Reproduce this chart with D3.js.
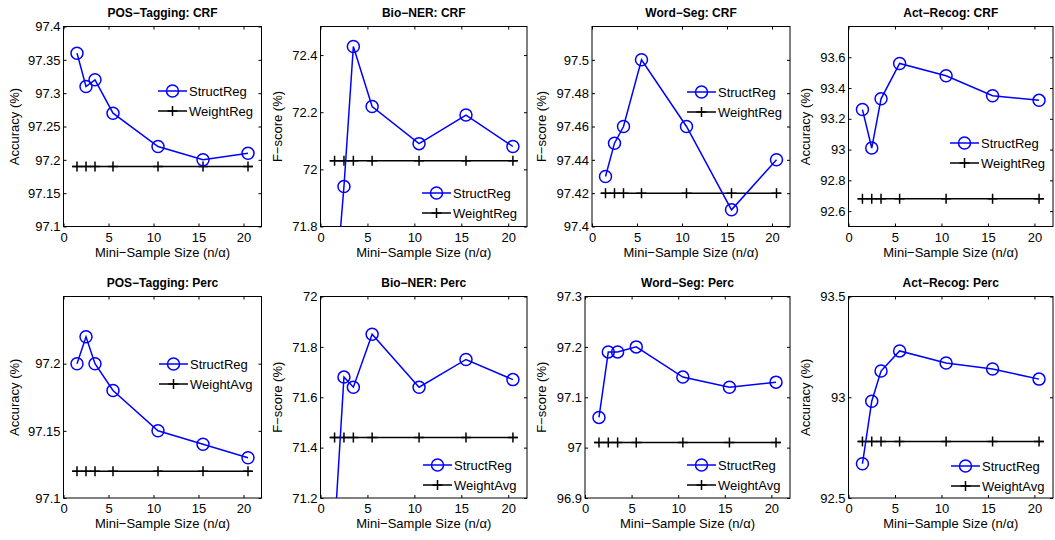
<!DOCTYPE html>
<html>
<head>
<meta charset="utf-8">
<script src="https://cdn.jsdelivr.net/npm/d3@7"></script>
<style>
body { margin: 0; background: #fff; }
text { font-family: "Liberation Sans", Arial, sans-serif; fill: #000; }
</style>
</head>
<body>
<script>
// mini-sample sizes (x) shared by every panel
const sizes = [1.5, 2.5, 3.5, 5.5, 10.5, 15.5, 20.5];
const baseSpan = [1, 21];
const xTicks = [0, 5, 10, 15, 20];

const titles = ['POS\u2212Tagging: CRF', 'Bio\u2212NER: CRF', 'Word\u2212Seg: CRF', 'Act\u2212Recog: CRF',
  'POS\u2212Tagging: Perc', 'Bio\u2212NER: Perc', 'Word\u2212Seg: Perc', 'Act\u2212Recog: Perc'];
const yNames = ['Accuracy (%)', 'F\u2212score (%)', 'F\u2212score (%)', 'Accuracy (%)',
  'Accuracy (%)', 'F\u2212score (%)', 'F\u2212score (%)', 'Accuracy (%)'];
const baseNames = ['WeightReg', 'WeightReg', 'WeightReg', 'WeightReg',
  'WeightAvg', 'WeightAvg', 'WeightAvg', 'WeightAvg'];

// StructReg values, one array per panel
const posCrf = [97.36, 97.31, 97.32, 97.27, 97.22, 97.20, 97.21];
const bioCrf = [71.54, 71.94, 72.43, 72.22, 72.09, 72.19, 72.08];
const segCrf = [97.43, 97.45, 97.46, 97.50, 97.46, 97.41, 97.44];
const actCrf = [93.26, 93.01, 93.33, 93.56, 93.48, 93.35, 93.32];
const posPerc = [97.20, 97.22, 97.20, 97.18, 97.15, 97.14, 97.13];
const bioPerc = [71.07, 71.68, 71.64, 71.85, 71.64, 71.75, 71.67];
const segPerc = [97.06, 97.19, 97.19, 97.20, 97.14, 97.12, 97.13];
const actPerc = [92.67, 92.98, 93.13, 93.23, 93.17, 93.14, 93.09];
const structVals = [posCrf, bioCrf, segCrf, actCrf, posPerc, bioPerc, segPerc, actPerc];

// baseline (WeightReg / WeightAvg), flat
const baseVals = [97.19, 72.03, 97.42, 92.68, 97.12, 71.44, 97.01, 92.78];

const yDomains = [[97.1, 97.4], [71.8, 72.5], [97.4, 97.52], [92.5, 93.8],
  [97.1, 97.25], [71.2, 72.0], [96.9, 97.3], [92.5, 93.5]];
const yTicks = [
  [97.1, 97.15, 97.2, 97.25, 97.3, 97.35, 97.4],
  [71.8, 72, 72.2, 72.4],
  [97.4, 97.42, 97.44, 97.46, 97.48, 97.5],
  [92.6, 92.8, 93, 93.2, 93.4, 93.6],
  [97.1, 97.15, 97.2],
  [71.2, 71.4, 71.6, 71.8, 72],
  [96.9, 97, 97.1, 97.2, 97.3],
  [92.5, 93, 93.5]
];

// layout: box [left, right, top, bottom], y label x, legend [lineStartX, firstRowY]
const boxes = [
  [63.5, 261.5, 26.5, 226.5], [320.5, 527, 26.5, 226.5], [592, 790, 26.5, 226.5], [848.5, 1053, 26.5, 226.5],
  [63.5, 261.5, 296.5, 498], [320.5, 527, 296.5, 498], [585, 790, 296.5, 498], [848.5, 1053, 296.5, 498]
];
const yLabX = [14, 277, 541, 805, 14, 277, 541, 805];
const legendPos = [[158, 91], [422, 193], [687, 92], [950, 143], [159, 364], [423, 465], [687, 465], [951, 466]];

const font = '"Liberation Sans", Arial, sans-serif';
const svg = d3.select('body').append('svg').attr('width', 1055).attr('height', 540);

function plusMark(sel, cx, cy) {
  sel.append('path').attr('d', `M${cx - 5},${cy}H${cx + 5}M${cx},${cy - 5}V${cy + 5}`)
    .attr('stroke', '#000').attr('stroke-width', 1.5).attr('fill', 'none');
}

boxes.forEach((b, i) => {
  const [x0, x1, y0, y1] = b;
  const x = d3.scaleLinear().domain([0, 22]).range([x0, x1]);
  const y = d3.scaleLinear().domain(yDomains[i]).range([y1, y0]);
  const g = svg.append('g');

  g.append('clipPath').attr('id', 'clip' + i).append('rect')
    .attr('x', x0).attr('y', y0).attr('width', x1 - x0).attr('height', y1 - y0);

  const fmt = d => String(+d.toFixed(2));
  const styleAxis = a => {
    a.attr('font-size', 13).attr('font-family', font);
    a.select('.domain').remove();
    a.selectAll('.tick line').attr('stroke', '#000');
  };
  g.append('g').attr('transform', `translate(0,${y1})`)
    .call(d3.axisBottom(x).tickValues(xTicks).tickSizeInner(-3).tickSizeOuter(0).tickPadding(6).tickFormat(d3.format('d')))
    .call(styleAxis);
  g.append('g').attr('transform', `translate(0,${y0})`)
    .call(d3.axisTop(x).tickValues(xTicks).tickSizeInner(-3).tickSizeOuter(0).tickFormat(''))
    .call(styleAxis);
  g.append('g').attr('transform', `translate(${x0},0)`)
    .call(d3.axisLeft(y).tickValues(yTicks[i]).tickSizeInner(-3).tickSizeOuter(0).tickPadding(3).tickFormat(fmt))
    .call(styleAxis);
  g.append('g').attr('transform', `translate(${x1},0)`)
    .call(d3.axisRight(y).tickValues(yTicks[i]).tickSizeInner(-3).tickSizeOuter(0).tickFormat(''))
    .call(styleAxis);
  g.selectAll('.tick text').style('fill', '#000');

  g.append('rect').attr('x', x0).attr('y', y0).attr('width', x1 - x0).attr('height', y1 - y0)
    .attr('fill', 'none').attr('stroke', '#000').attr('stroke-width', 1);

  const plot = g.append('g').attr('clip-path', `url(#clip${i})`);

  // baseline
  plot.append('line').attr('x1', x(baseSpan[0])).attr('x2', x(baseSpan[1]))
    .attr('y1', y(baseVals[i])).attr('y2', y(baseVals[i]))
    .attr('stroke', '#000').attr('stroke-width', 1.5);
  sizes.forEach(s => plusMark(plot, x(s), y(baseVals[i])));

  // StructReg
  const pts = sizes.map((s, k) => [s, structVals[i][k]]);
  plot.append('path').datum(pts)
    .attr('d', d3.line().x(d => x(d[0])).y(d => y(d[1])))
    .attr('fill', 'none').attr('stroke', '#0000ff').attr('stroke-width', 1.5);
  plot.selectAll('circle').data(pts).enter().append('circle')
    .attr('cx', d => x(d[0])).attr('cy', d => y(d[1])).attr('r', 6)
    .attr('fill', 'none').attr('stroke', '#0000ff').attr('stroke-width', 1.5);

  // title and axis labels
  g.append('text').attr('x', (x0 + x1) / 2).attr('y', y0 - 10).attr('text-anchor', 'middle')
    .attr('font-size', 12).attr('font-weight', 'bold').text(titles[i]);
  g.append('text').attr('x', (x0 + x1) / 2).attr('y', y1 + 30).attr('text-anchor', 'middle')
    .attr('font-size', 13).text('Mini\u2212Sample Size (n/\u03b1)');
  g.append('text').attr('transform', `translate(${yLabX[i]},${(y0 + y1) / 2}) rotate(-90)`)
    .attr('text-anchor', 'middle').attr('dy', '0.35em').attr('font-size', 13).text(yNames[i]);

  // legend
  const [lx, ly] = legendPos[i];
  const lg = g.append('g');
  lg.append('line').attr('x1', lx).attr('x2', lx + 29).attr('y1', ly).attr('y2', ly)
    .attr('stroke', '#0000ff').attr('stroke-width', 1.5);
  lg.append('circle').attr('cx', lx + 14.5).attr('cy', ly).attr('r', 6)
    .attr('fill', 'none').attr('stroke', '#0000ff').attr('stroke-width', 1.5);
  lg.append('text').attr('x', lx + 31).attr('y', ly).attr('dy', '0.35em').attr('font-size', 13).text('StructReg');
  const ly2 = ly + 20;
  lg.append('line').attr('x1', lx).attr('x2', lx + 29).attr('y1', ly2).attr('y2', ly2)
    .attr('stroke', '#000').attr('stroke-width', 1.5);
  plusMark(lg, lx + 14.5, ly2);
  lg.append('text').attr('x', lx + 31).attr('y', ly2).attr('dy', '0.35em').attr('font-size', 13).text(baseNames[i]);
});
</script>
</body>
</html>
